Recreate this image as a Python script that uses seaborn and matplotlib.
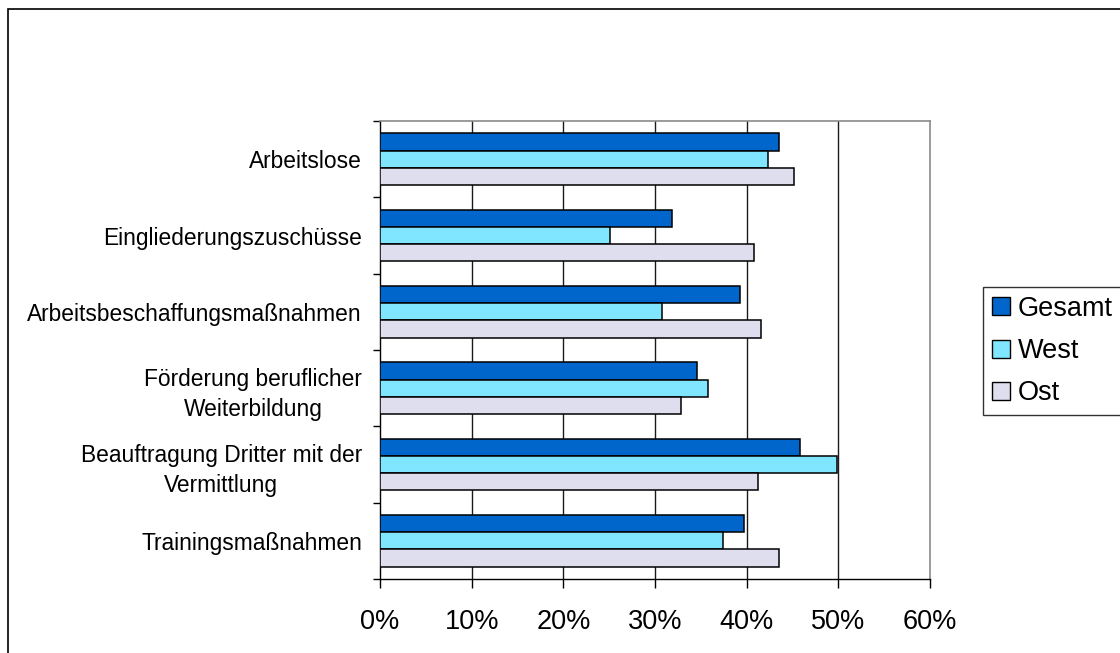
import matplotlib
matplotlib.use("Agg")
import matplotlib.pyplot as plt
import matplotlib.patches as mpatches
from matplotlib.ticker import FixedLocator
import seaborn as sns
import pandas as pd

categories = [
    "Arbeitslose",
    "Eingliederungszuschüsse",
    "Arbeitsbeschaffungsmaßnahmen",
    "Förderung beruflicher\nWeiterbildung",
    "Beauftragung Dritter mit der\nVermittlung",
    "Trainingsmaßnahmen",
]
series = ["Gesamt", "West", "Ost"]
gesamt = [43.5, 31.8, 39.3, 34.6, 45.8, 39.7]
west = [42.3, 25.1, 30.8, 35.8, 49.9, 37.4]
ost = [45.2, 40.8, 41.6, 32.8, 41.2, 43.5]
x_ticks = [0, 10, 20, 30, 40, 50, 60]
colors = ["#0066CC", "#80E5FF", "#DEDEEE"]

rows = []
for s, vals in zip(series, [gesamt, west, ost]):
    for c, v in zip(categories, vals):
        rows.append({"Kategorie": c, "Gruppe": s, "Wert": v})
df = pd.DataFrame(rows)

sns.set_theme(style="white")
plt.rcParams["font.family"] = ["Liberation Sans", "DejaVu Sans"]
plt.rcParams["text.color"] = "black"
plt.rcParams["xtick.color"] = "black"
plt.rcParams["ytick.color"] = "black"
plt.rcParams["axes.labelcolor"] = "black"

fig = plt.figure(figsize=(11.2, 6.53), dpi=100)
fig.patch.set_facecolor("white")
ax = fig.add_axes([380 / 1120, 1 - 579 / 653, (930 - 380) / 1120, (579 - 121) / 653])

sns.barplot(
    data=df, x="Wert", y="Kategorie", hue="Gruppe", orient="h",
    order=categories, hue_order=series, palette=colors, saturation=1,
    edgecolor="black", linewidth=1.1, width=0.68, gap=0, ax=ax,
    errorbar=None, legend=False, zorder=3,
)

ax.set_xlim(0, 60)
ax.set_ylim(len(categories) - 0.5, -0.5)
ax.set_xticks(x_ticks)
ax.set_xticklabels([f"{t}%" for t in x_ticks])
ax.set_xlabel("")
ax.set_ylabel("")

for t in x_ticks[1:-1]:
    ax.axvline(t, color="#1a1a1a", lw=1.0, zorder=1)

ax.tick_params(axis="x", direction="out", length=6.5, width=1, color="black",
               labelsize=19.5, labelcolor="black", pad=15, bottom=True)
ax.tick_params(axis="y", which="major", length=0, labelsize=16.4,
               labelcolor="black", pad=13, left=True)
ax.yaxis.set_minor_locator(FixedLocator([i - 0.5 for i in range(len(categories) + 1)]))
ax.tick_params(axis="y", which="minor", direction="out", length=5, width=1,
               color="black", left=True)
for t in ax.get_yticklabels():
    t.set_multialignment("center")
    t.set_linespacing(1.38)

for side in ["left", "bottom"]:
    ax.spines[side].set_color("black")
    ax.spines[side].set_linewidth(1.0)
for side in ["top", "right"]:
    ax.spines[side].set_color("#8a8a8a")
    ax.spines[side].set_linewidth(1.2)

handles = [mpatches.Patch(facecolor=c, edgecolor="black", linewidth=1.0, label=s)
           for c, s in zip(colors, series)]
leg = fig.legend(
    handles=handles, loc="upper left",
    bbox_to_anchor=(983 / 1120, 1 - 287 / 653), bbox_transform=fig.transFigure,
    frameon=True, fancybox=False, fontsize=19.5, handlelength=0.65,
    handleheight=0.65, handletextpad=0.3, labelspacing=0.6,
    borderpad=0.33, borderaxespad=0,
)
leg.get_frame().set_edgecolor("black")
leg.get_frame().set_linewidth(1.0)
for txt in leg.get_texts():
    txt.set_color("black")

frame = mpatches.Rectangle((8 / 1120, -0.2), 1.2, 1.2 - 9 / 653,
                           transform=fig.transFigure, fill=False,
                           edgecolor="black", linewidth=1.2, clip_on=False)
fig.patches.append(frame)

fig.savefig("out.png", dpi=100, facecolor="white")
